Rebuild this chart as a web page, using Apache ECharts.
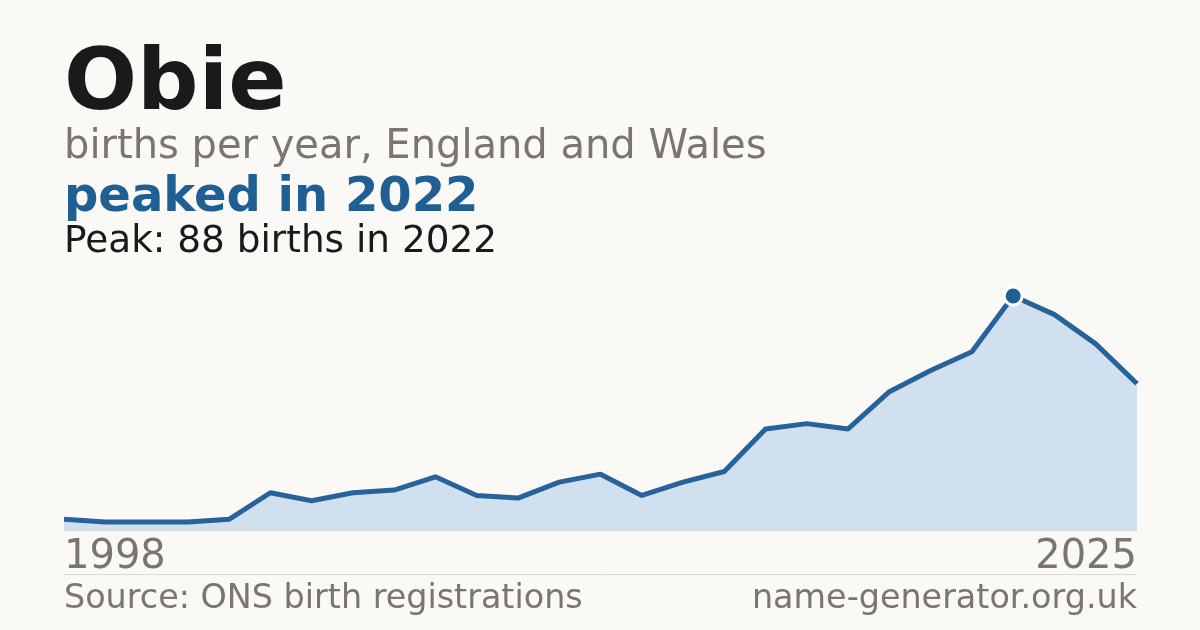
<!DOCTYPE html>
<html>
<head>
<meta charset="utf-8">
<script src="https://cdn.jsdelivr.net/npm/echarts@6/dist/echarts.min.js"></script>
<style>
html,body{margin:0;padding:0;background:#faf9f5;}
#chart{width:1200px;height:630px;}
</style>
</head>
<body>
<div id="chart"></div>
<script>
const years = ['1998','1999','2001','2002','2003','2004','2005','2006','2007','2008','2009','2010','2011','2012','2013','2014','2015','2016','2017','2018','2019','2020','2021','2022','2023','2024','2025'];
const births = [4,3,3,3,4,14,11,14,15,20,13,12,18,21,13,18,22,38,40,38,52,60,67,88,81,70,55];
const titleText = 'Obie';
const subtitleText = 'births per year, England and Wales';
const sourceText = 'Source: ONS birth registrations';
const siteText = 'name-generator.org.uk';

const peakVal = Math.max(...births);
const peakIdx = births.indexOf(peakVal);
const peakYear = years[peakIdx];

const FONT = 'DejaVu Sans';
const chart = echarts.init(document.getElementById('chart'));
chart.setOption({
  backgroundColor: '#faf9f5',
  animation: false,
  grid: {left: 64, right: 63, top: 296, bottom: 100},
  xAxis: {
    type: 'category',
    data: years,
    boundaryGap: false,
    axisLine: {show: true, lineStyle: {color: '#dcdad4', width: 1}},
    axisTick: {show: false},
    splitLine: {show: false},
    axisLabel: {
      interval: (i) => i === 0 || i === years.length - 1,
      fontFamily: FONT, fontSize: 40, color: '#7a766f', margin: 8,
      alignMinLabel: 'left', alignMaxLabel: 'right'
    }
  },
  yAxis: {
    type: 'value', min: 0, max: peakVal, show: false,
    splitLine: {show: false}
  },
  series: [{
    type: 'line',
    data: births,
    showSymbol: false,
    lineStyle: {color: '#27639a', width: 5},
    areaStyle: {color: '#d0e0ef', opacity: 1},
    z: 2,
    markPoint: {
      silent: true,
      symbol: 'circle',
      symbolSize: 18,
      itemStyle: {color: '#1f5f94', borderColor: '#ffffff', borderWidth: 3},
      label: {show: false},
      data: [{coord: [peakIdx, peakVal]}]
    }
  }],
  graphic: [
    {type: 'text', left: 64, top: 44, style: {text: titleText, font: 'bold 86px "DejaVu Sans"', fill: '#1a1a1a'}},
    {type: 'text', left: 64, top: 128, style: {text: subtitleText, font: '40px "DejaVu Sans"', fill: '#7a766f'}},
    {type: 'text', left: 64, top: 175, style: {text: 'peaked in ' + peakYear, font: 'bold 48px "DejaVu Sans"', fill: '#1f5f94'}},
    {type: 'text', left: 64, top: 224, style: {text: 'Peak: ' + peakVal + ' births in ' + peakYear, font: '37.4px "DejaVu Sans"', fill: '#1a1a1a'}},
    {type: 'line', shape: {x1: 64, y1: 574.5, x2: 1137, y2: 574.5}, style: {stroke: '#dcdad4', lineWidth: 1}},
    {type: 'text', left: 64, top: 583, style: {text: sourceText, font: '33.4px "DejaVu Sans"', fill: '#7a766f'}},
    {type: 'text', right: 63, top: 583, style: {text: siteText, font: '33.4px "DejaVu Sans"', fill: '#7a766f'}}
  ]
});
</script>
</body>
</html>
